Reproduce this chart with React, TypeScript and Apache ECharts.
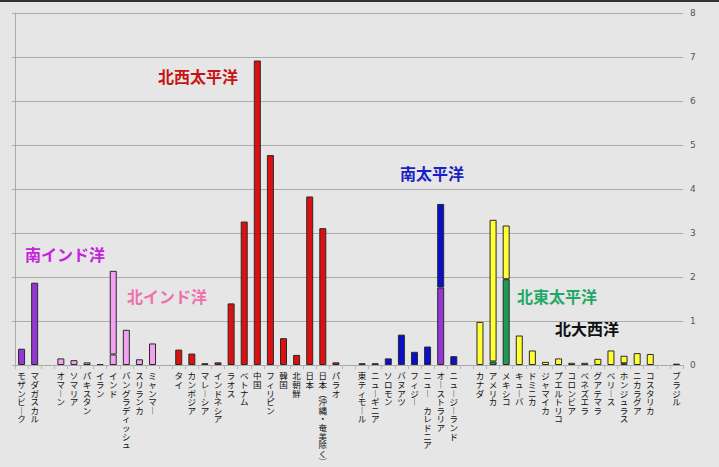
import React, { useEffect, useRef } from "react";
import * as echarts from "echarts";

const categories = [
  "モザンビーク", "マダガスカル", "",
  "オマーン", "ソマリア", "パキスタン", "イラン", "インド", "バングラディッシュ", "スリランカ", "ミャンマー", "",
  "タイ", "カンボジア", "マレーシア", "インドネシア", "ラオス", "ベトナム", "中国", "フィリピン", "韓国", "北朝鮮", "日本", "日本(沖縄・奄美除く)", "パラオ", "",
  "東ティモール", "ニューギニア", "ソロモン", "バヌアツ", "フィジー", "ニュー カレドニア", "オーストラリア", "ニュージーランド", "",
  "カナダ", "アメリカ", "メキシコ", "キューバ", "ドミニカ", "ジャマイカ", "プエルトリコ", "コロンビア", "ベネズエラ", "グアテマラ", "ベリース", "ホンジュラス", "ニカラグア", "コスタリカ", "",
  "ブラジル",
];

// 南インド洋 (bottom segments where stacked)
const southIndianNames = ["モザンビーク", "マダガスカル", "オーストラリア"];
const southIndianValues = [0.37, 1.87, 1.76];

// 北東太平洋 (bottom segments)
const northEastPacificNames = ["アメリカ", "メキシコ", "ホンジュラス"];
const northEastPacificValues = [0.08, 1.95, 0.04];

// 北インド洋 lower segment (India)
const northIndianLowerNames = ["インド"];
const northIndianLowerValues = [0.24];

// 北インド洋
const northIndianNames = ["オマーン", "ソマリア", "パキスタン", "イラン", "インド", "バングラディッシュ", "スリランカ", "ミャンマー"];
const northIndianValues = [0.15, 0.11, 0.06, 0.02, 1.9, 0.8, 0.13, 0.49];

// 北西太平洋
const northWestPacificNames = ["タイ", "カンボジア", "マレーシア", "インドネシア", "ラオス", "ベトナム", "中国", "フィリピン", "韓国", "北朝鮮", "日本", "日本(沖縄・奄美除く)", "パラオ"];
const northWestPacificValues = [0.35, 0.26, 0.04, 0.06, 1.4, 3.26, 6.92, 4.77, 0.61, 0.23, 3.83, 3.11, 0.06];

// 南太平洋
const southPacificNames = ["東ティモール", "ニューギニア", "ソロモン", "バヌアツ", "フィジー", "ニュー カレドニア", "オーストラリア", "ニュージーランド"];
const southPacificValues = [0.04, 0.04, 0.15, 0.69, 0.3, 0.42, 1.9, 0.2];

// 北大西洋
const northAtlanticNames = ["カナダ", "アメリカ", "メキシコ", "キューバ", "ドミニカ", "ジャマイカ", "プエルトリコ", "コロンビア", "ベネズエラ", "グアテマラ", "ベリース", "ホンジュラス", "ニカラグア", "コスタリカ"];
const northAtlanticValues = [0.98, 3.22, 1.22, 0.67, 0.33, 0.07, 0.15, 0.05, 0.05, 0.14, 0.33, 0.17, 0.27, 0.25];

// 南大西洋
const southAtlanticNames = ["ブラジル"];
const southAtlanticValues = [0.03];

const yTicks = { min: 0, max: 8, interval: 1 };

const regionLabels = [
  { text: "南インド洋", color: "#c522dc" },
  { text: "北インド洋", color: "#ee70aa" },
  { text: "北西太平洋", color: "#c81414" },
  { text: "南太平洋", color: "#1b1fc4" },
  { text: "北東太平洋", color: "#22a865" },
  { text: "北大西洋", color: "#111111" },
];

function align(names: string[], values: number[]) {
  return categories.map((c) => {
    const i = names.indexOf(c);
    return c !== "" && i >= 0 ? values[i] : null;
  });
}

const verticalMap: Record<string, string> = {
  "ー": "︱",
  "(": "︵",
  ")": "︶",
};

export default function App() {
  const ref = useRef<HTMLDivElement>(null);
  useEffect(() => {
    if (!ref.current) return;
    const chart = echarts.init(ref.current, null, { renderer: "svg" });
    const border = { borderColor: "#2a2a2a", borderWidth: 1 };
    const mk = (name: string, names: string[], values: number[], color: string) => ({
      name,
      type: "bar",
      stack: "total",
      barWidth: 7,
      data: align(names, values),
      itemStyle: { color, ...border },
    });
    const font = "'Noto Sans CJK JP', sans-serif";
    chart.setOption({
      animation: false,
      backgroundColor: "#e6e6e6",
      grid: { left: 15, right: 36, top: 13, bottom: 102 },
      xAxis: {
        type: "category",
        data: categories,
        axisLine: { lineStyle: { color: "#a8a8a8" } },
        axisTick: { show: true, length: 4, lineStyle: { color: "#b8b8b8" } },
        axisLabel: {
          interval: 0,
          margin: 6,
          fontSize: 8.5,
          lineHeight: 8.6,
          color: "#111",
          fontFamily: font,
          verticalAlign: "top",
          formatter: (v: string) =>
            v.split("").map((ch) => verticalMap[ch] || ch).join("\n"),
        },
      },
      yAxis: [
        {
          type: "value",
          position: "left",
          ...yTicks,
          axisLine: { show: true, lineStyle: { color: "#aaaaaa" } },
          axisTick: { show: true, length: 3, lineStyle: { color: "#aaaaaa" } },
          axisLabel: { show: false },
          splitLine: { lineStyle: { color: "#ababab" } },
        },
        {
          type: "value",
          position: "right",
          ...yTicks,
          axisLine: { show: false },
          axisTick: { show: false },
          axisLabel: { color: "#555", fontSize: 9, margin: 7, fontFamily: "DejaVu Sans" },
          splitLine: { show: false },
        },
      ],
      series: [
        mk("南インド洋", southIndianNames, southIndianValues, "#9437d6"),
        mk("北東太平洋(下)", northEastPacificNames, northEastPacificValues, "#1f9a55"),
        mk("北インド洋(下)", northIndianLowerNames, northIndianLowerValues, "#f2a2f0"),
        mk("北インド洋", northIndianNames, northIndianValues, "#f2a2f0"),
        mk("北西太平洋", northWestPacificNames, northWestPacificValues, "#dc1010"),
        mk("南太平洋", southPacificNames, southPacificValues, "#0a10c8"),
        mk("北大西洋", northAtlanticNames, northAtlanticValues, "#ffff33"),
        mk("南大西洋", southAtlanticNames, southAtlanticValues, "#333333"),
      ],
      graphic: [
        { type: "rect", left: 0, top: 0, shape: { width: 719, height: 2 }, style: { fill: "#333" } },
        ...[
          [25, 246],
          [127, 288],
          [158, 68],
          [400, 165],
          [517, 288],
          [555, 320],
        ].map(([x, y], i) => ({
          type: "text",
          x,
          y,
          style: {
            text: regionLabels[i].text,
            fill: regionLabels[i].color,
            font: `bold 16px ${font}`,
          },
        })),
      ],
    });
    return () => chart.dispose();
  }, []);
  return (
    <div
      ref={ref}
      style={{ position: "fixed", left: 0, top: 0, width: 719, height: 467 }}
    />
  );
}
